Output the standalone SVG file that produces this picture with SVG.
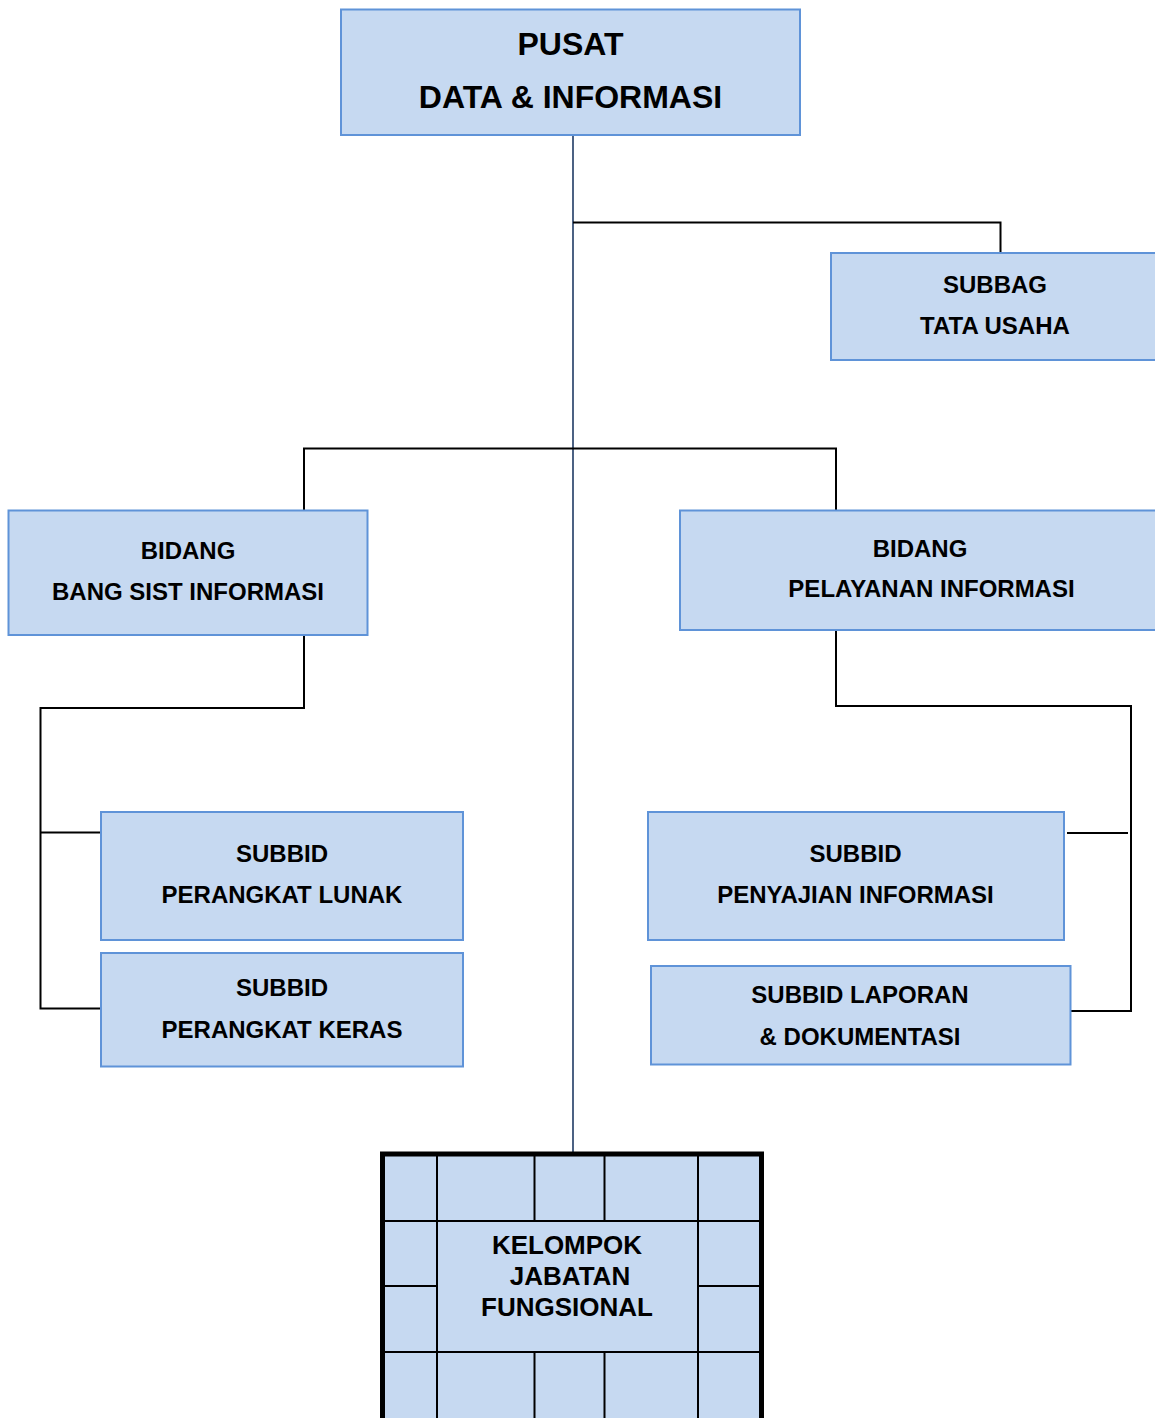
<svg xmlns="http://www.w3.org/2000/svg" width="1155" height="1418" viewBox="0 0 1155 1418">
<style>
.box{fill:#c6d9f1;stroke:#5f93d8;stroke-width:2}
.t{font-family:"Liberation Sans",Arial,sans-serif;font-weight:bold;font-size:24px;fill:#000;text-anchor:middle}
.big{font-size:32px}
.g{font-size:26px}
.c{fill:none;stroke:#000;stroke-width:2}
.main{fill:none;stroke:#1f3a64;stroke-width:1.6}
.grid{fill:none;stroke:#000;stroke-width:2}
</style>
<rect width="1155" height="1418" fill="#fff"/>
<g id="connectors">
<path class="main" d="M573 135V1153"/>
<path class="c" d="M573 222.5H1000.5V253"/>
<path class="c" d="M304 510V448.5H836V510"/>
<path class="c" d="M304 635V708H40.5V1008.5H101"/>
<path class="c" d="M40.5 832.5H101"/>
<path class="c" d="M836 630V706H1131V1011H1070"/>
<path class="c" d="M1067 833H1128"/>
</g>
<g id="pusat">
<rect class="box" x="341" y="9.5" width="459" height="125.5"/>
<text class="t big" x="570.5" y="55">PUSAT</text>
<text class="t big" x="570.5" y="108">DATA &amp; INFORMASI</text>
</g>
<g id="subbag">
<rect class="box" x="831" y="253" width="340" height="107"/>
<text class="t" x="995" y="293">SUBBAG</text>
<text class="t" x="995" y="334">TATA USAHA</text>
</g>
<g id="bidang-bang">
<rect class="box" x="8.5" y="510.5" width="359" height="124.5"/>
<text class="t" x="188" y="559">BIDANG</text>
<text class="t" x="188" y="600">BANG SIST INFORMASI</text>
</g>
<g id="bidang-pelayanan">
<rect class="box" x="680" y="510.5" width="490" height="119.5"/>
<text class="t" x="920" y="557">BIDANG</text>
<text class="t" x="931.5" y="597">PELAYANAN INFORMASI</text>
</g>
<g id="subbid-lunak">
<rect class="box" x="101" y="812" width="362" height="128"/>
<text class="t" x="282" y="862">SUBBID</text>
<text class="t" x="282" y="903">PERANGKAT LUNAK</text>
</g>
<g id="subbid-keras">
<rect class="box" x="101" y="953" width="362" height="113.5"/>
<text class="t" x="282" y="996">SUBBID</text>
<text class="t" x="282" y="1038">PERANGKAT KERAS</text>
</g>
<g id="subbid-penyajian">
<rect class="box" x="648" y="812" width="416" height="128"/>
<text class="t" x="855.5" y="862">SUBBID</text>
<text class="t" x="855.5" y="903">PENYAJIAN INFORMASI</text>
</g>
<g id="subbid-laporan">
<rect class="box" x="651" y="966" width="419.5" height="98.5"/>
<text class="t" x="860" y="1003">SUBBID LAPORAN</text>
<text class="t" x="860" y="1045">&amp; DOKUMENTASI</text>
</g>
<g id="kelompok">
<rect x="382.5" y="1154" width="379" height="280" fill="#c6d9f1"/>
<path class="grid" d="M437 1154V1430M698 1154V1430M534.5 1154V1221M604.5 1154V1221M534.5 1352V1430M604.5 1352V1430M382.5 1221H761.5M382.5 1352H761.5M382.5 1286H437M698 1286H761.5"/>
<rect x="382.5" y="1154" width="379" height="280" fill="none" stroke="#000" stroke-width="5"/>
<text class="t g" x="567" y="1254">KELOMPOK</text>
<text class="t g" x="570" y="1285">JABATAN</text>
<text class="t g" x="567" y="1316">FUNGSIONAL</text>
</g>
</svg>
